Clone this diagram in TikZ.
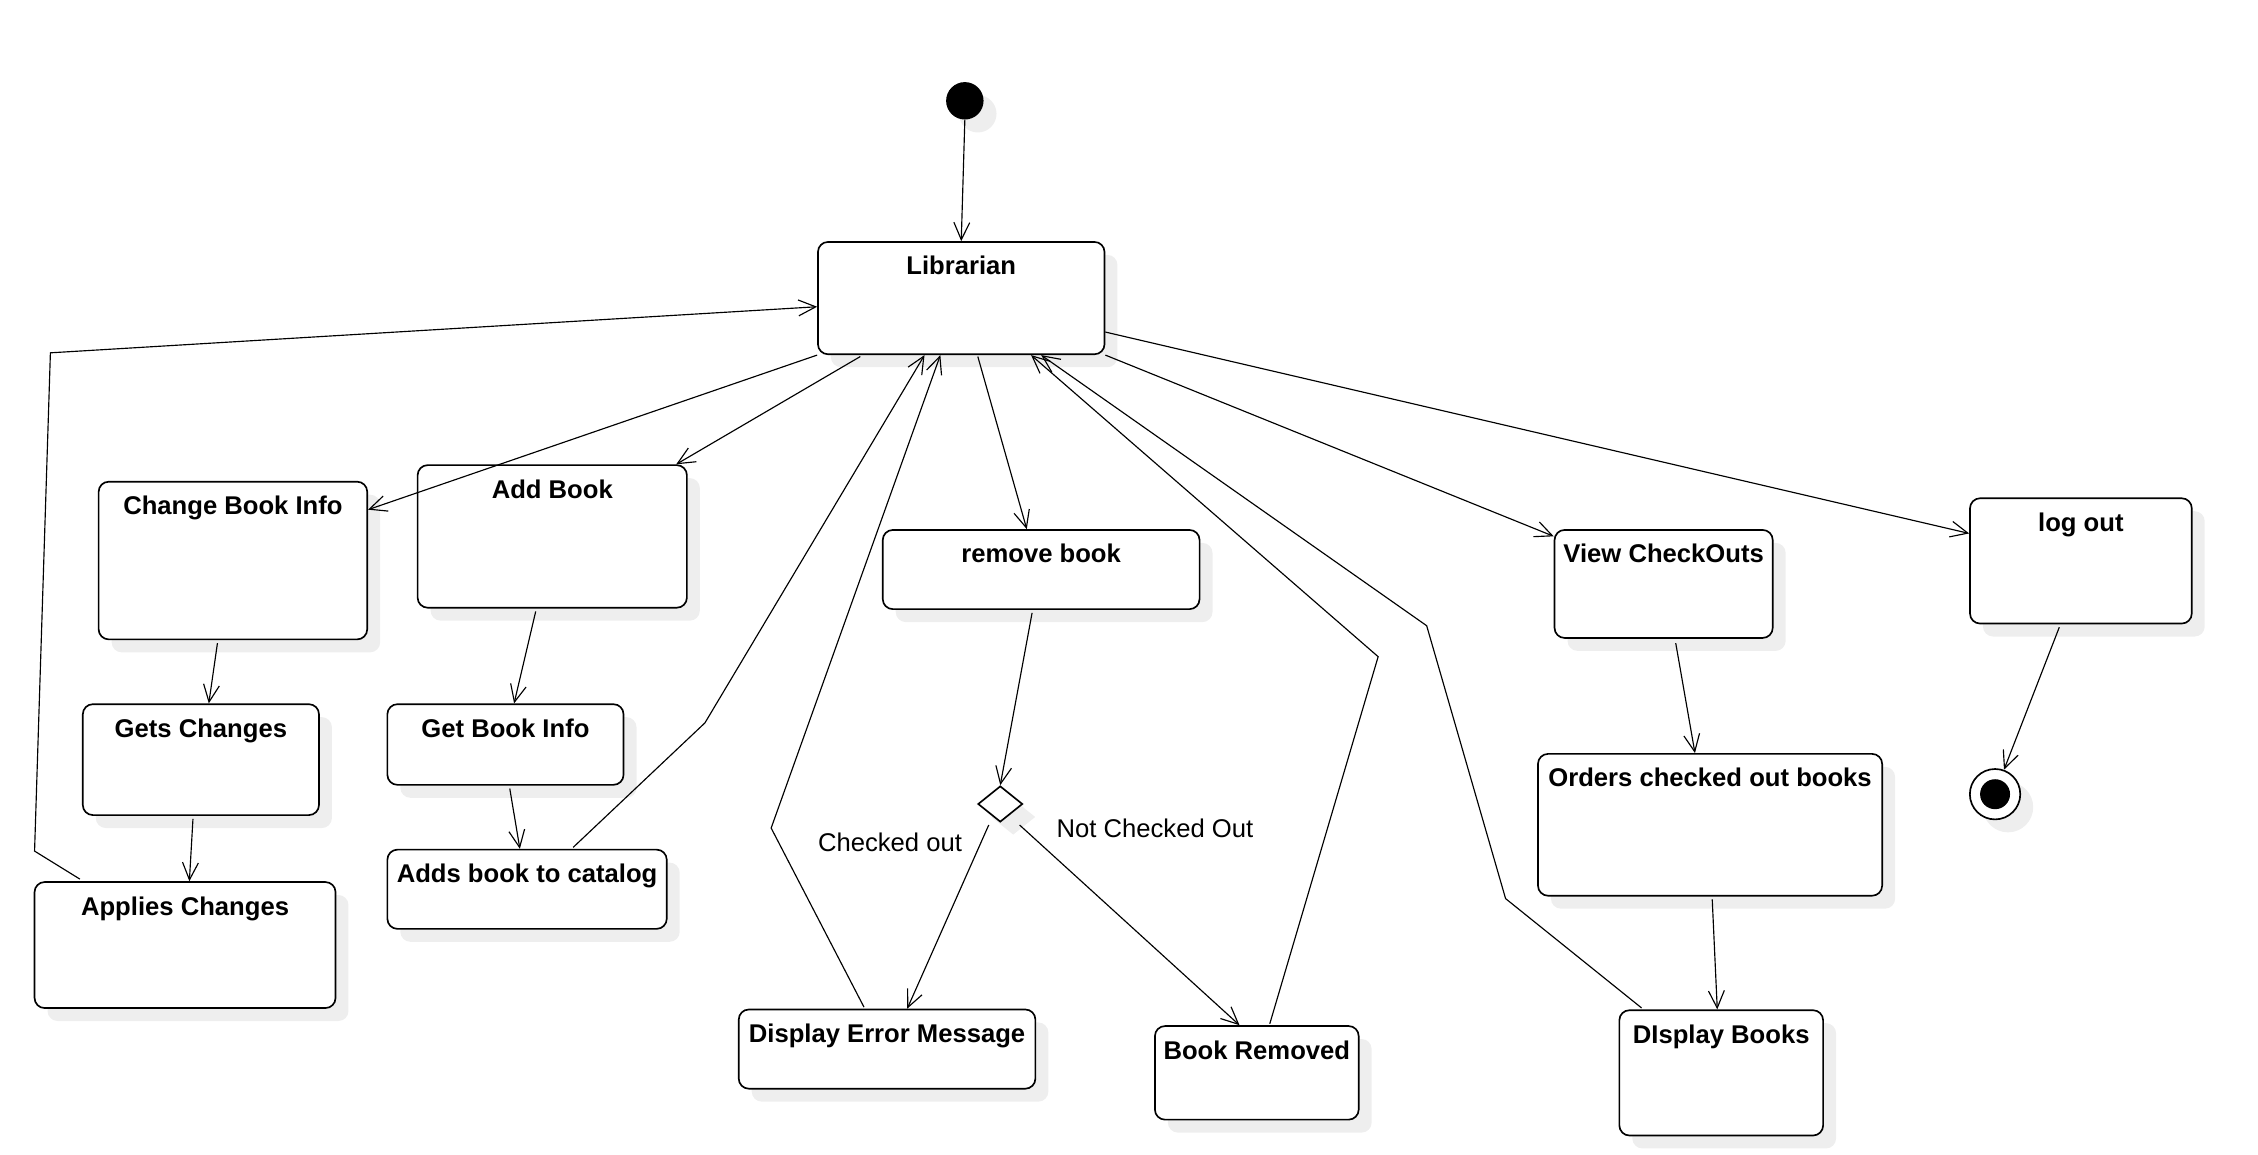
\documentclass[tikz,border=0pt]{standalone}
\usepackage{fontspec}
\setmainfont{Liberation Sans}
\usetikzlibrary{arrows.meta,shapes.geometric,shadows,calc}
\definecolor{shgray}{RGB}{238,238,238}
\begin{document}
\begin{tikzpicture}[x=1pt,y=-1pt,
  shad/.style={drop shadow={shadow xshift=9pt,shadow yshift=-9pt,fill=shgray,opacity=1}},
  box/.style={draw,line width=1.15pt,rounded corners=7pt,fill=white,inner sep=0pt,shad},
  ttl/.style={font=\fontsize{17.8}{20}\selectfont\bfseries,anchor=base,yshift=-23.5pt,inner sep=0pt},
  guard/.style={font=\fontsize{17.8}{20}\selectfont,inner sep=0pt},
  conn/.style={line width=0.8pt,-{Straight Barb[length=12pt,width=11pt]}},
  plain/.style={line width=0.8pt}]
\useasboundingbox (0,0) rectangle (1568,801.4);

% initial and final
\node[circle,fill=black,minimum size=26pt,inner sep=0pt,shad] (init) at (670,70) {};
\node[circle,draw,line width=1.15pt,fill=white,minimum size=35pt,inner sep=0pt,shad] (final) at (1385.4,551.5) {};
\fill (final.center) circle (10.4pt);

% states
\node[box,minimum width=199pt,minimum height=78pt,label={[ttl]north:Librarian}] (lib) at (667.5,207) {};
\node[box,minimum width=186.5pt,minimum height=109.5pt,label={[ttl]north:Change Book Info}] (cbi) at (161.75,389.25) {};
\node[box,minimum width=187pt,minimum height=99pt,label={[ttl]north:Add Book}] (add) at (383.5,372.5) {};
\node[box,minimum width=220pt,minimum height=55pt,label={[ttl]north:remove book}] (rem) at (723,395.5) {};
\node[box,minimum width=151.5pt,minimum height=75pt,label={[ttl]north:View CheckOuts}] (view) at (1155.25,405.5) {};
\node[box,minimum width=154pt,minimum height=87pt,label={[ttl]north:log out}] (logout) at (1445,389.5) {};
\node[box,minimum width=164pt,minimum height=77pt,label={[ttl]north:Gets Changes}] (gets) at (139.5,527.5) {};
\node[box,minimum width=164pt,minimum height=56pt,label={[ttl]north:Get Book Info}] (gbi) at (351,517) {};
\node[box,minimum width=209pt,minimum height=87.5pt,label={[ttl]north:Applies Changes}] (app) at (128.5,656.25) {};
\node[box,minimum width=194pt,minimum height=55pt,label={[ttl]north:Adds book to catalog}] (adds) at (366,617.5) {};
\node[box,minimum width=239pt,minimum height=98.5pt,label={[ttl]north:Orders checked out books}] (orders) at (1187.5,572.75) {};
\node[box,minimum width=206pt,minimum height=55pt,label={[ttl]north:Display Error Message}] (err) at (616,728.5) {};
\node[box,minimum width=141.5pt,minimum height=65pt,label={[ttl]north:Book Removed}] (removed) at (872.75,745) {};
\node[box,minimum width=141.5pt,minimum height=87pt,label={[ttl]north:DIsplay Books}] (disp) at (1195.25,745) {};

% decision
\node[diamond,draw,line width=1.15pt,fill=white,minimum width=31pt,minimum height=25pt,inner sep=0pt,shad] (dec) at (694.6,558.3) {};

% guards
\node[guard] (gco) at (618,585) {Checked out};
\node[guard] (gnco) at (802,575.5) {Not Checked Out};

% bend points
\coordinate (b1) at (489.5,502);
\coordinate (b2a) at (24,591);
\coordinate (b2b) at (35,245);
\coordinate (b3) at (535.5,575);
\coordinate (b4) at (957,456);
\coordinate (b5a) at (1045.5,624);
\coordinate (b5b) at (990.7,434.5);

% connectors
\draw[conn] (init.south) -- (lib.north);
\draw[conn] (lib.south west) -- ($(cbi.north east)+(0,20)$);
\draw[conn] ($(lib.south west)+(30,1)$) -- ($(add.north east)+(-8,0)$);
\draw[conn] ($(lib.south)+(11.5,1)$) -- ($(rem.north)+(-10,0)$);
\draw[conn] (lib.south east) -- ($(view.north west)+(0,5)$);
\draw[conn] ($(lib.south east)+(0,-16)$) -- ($(logout.north west)+(0,25)$);
\draw[conn] ($(logout.south)+(-15,2)$) -- (final.70);

\draw[conn] ($(cbi.south)+(-10.75,2)$) -- ($(gets.north)+(5.5,0)$);
\draw[conn] ($(gets.south)+(-5.5,2)$) -- ($(app.north)+(3,0)$);
\draw[conn] ($(add.south)+(-11.5,2)$) -- ($(gbi.north)+(6,0)$);
\draw[conn] ($(gbi.south)+(3,2)$) -- ($(adds.north)+(-5,0)$);
\draw[conn] ($(adds.north)+(32,-1)$) -- (b1) -- ($(lib.south)+(-25.5,0)$);
\draw[conn] ($(app.north west)+(32,-1.5)$) -- (b2a) -- (b2b) -- ($(lib.west)+(0,6)$);

\draw[conn] ($(rem.south)+(-6.3,2)$) -- (dec.north);
\draw[conn] ($(dec.south)+(-8,1.5)$) -- ($(err.north)+(14,0)$);
\draw[conn] ($(dec.south)+(13.4,1.5)$) -- ($(removed.north)+(-12,0)$);
\draw[conn] ($(err.north)+(-16,-1)$) -- (b3) -- ($(lib.south)+(-14.5,0)$);
\draw[conn] ($(removed.north)+(9,-1)$) -- (b4) -- ($(lib.south)+(48.5,0)$);
\draw[conn] ($(disp.north west)+(16,-1)$) -- (b5a) -- (b5b) -- ($(lib.south)+(55.5,0)$);

\draw[conn] ($(view.south)+(8.4,3)$) -- ($(orders.north)+(-10.5,0)$);
\draw[conn] ($(orders.south)+(1.5,2)$) -- ($(disp.north)+(-2.75,0)$);
\end{tikzpicture}
\end{document}
